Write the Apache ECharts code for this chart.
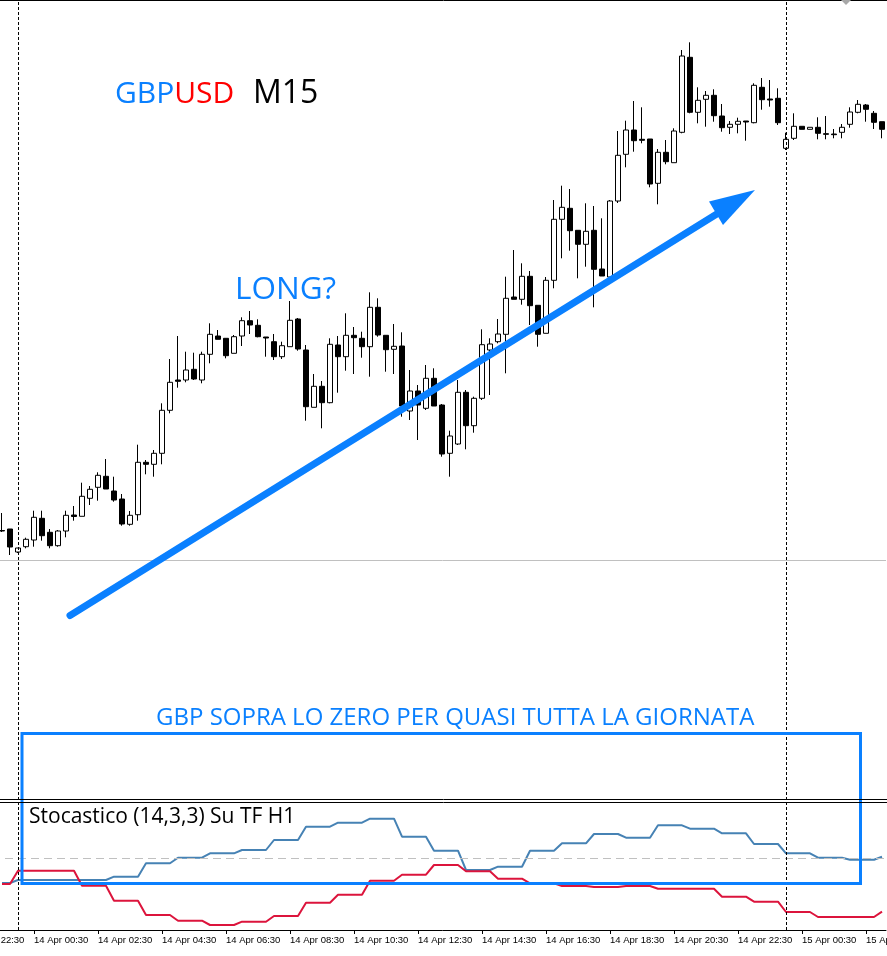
<!DOCTYPE html>
<html><head><meta charset="utf-8">
<script src="https://cdn.jsdelivr.net/npm/echarts@6/dist/echarts.min.js"></script>
<style>html,body{margin:0;padding:0;background:#fff;overflow:hidden}#c{width:887px;height:956px;}</style>
</head><body><div id="c"></div>
<script>
// ---- categories: M15 bars starting 13 Apr 22:30 (first 4 bars lie off-screen, no data) ----
const times = [];
for (let n = 0; n < 115; n++) {
  const m = 22 * 60 + 30 + 15 * n;
  const d = 13 + Math.floor(m / 1440);
  const mm = m % 1440;
  times.push(d + ' Apr ' + String(Math.floor(mm / 60)).padStart(2, '0') + ':' + String(mm % 60).padStart(2, '0'));
}
const hiddenLead = 4;
const daySeparators = ['14 Apr 00:00', '15 Apr 00:00'];

// ---- price bars (arbitrary price units, no price scale visible) from 13 Apr 23:30 ----
const opens = [269.5,271,248,253.3,260,281.7,267.7,254.3,269,285,283.7,301.7,312.7,323.7,309,301,275.7,285.3,337.7,335.7,346.7,389.7,420,420,430.7,420,445.7,464,461.7,446.7,464,479.3,474.7,463,458.3,443.3,453.3,481,450,392.7,413.7,397.3,455,443.3,464.7,461.7,453.3,492.7,464.7,450.7,454,389,409,391.7,421.7,395,346.7,356,407.7,374.3,401.7,450,458.3,465.7,503,500.7,523.7,494.7,466.7,519.7,580.7,591.7,569.7,555.7,569.7,531,523,599,645.7,670,660.7,661,616.7,647.7,637.3,667.7,742.7,687.7,700.7,704.7,684,672.7,675.7,679,677.3,712.7,701,701.7,651.7,661.7,673.7,670.7,672.7,666.3,666,667.7,675.7,687.7,695,686.7,678.3];
const closes = [269,253,252,260.7,282.7,264.3,254.3,269,284.7,283.5,303.7,310.7,324.7,311,300,276,284.7,337.7,335.7,346.7,389.7,417.7,418.7,430,421,445.7,465.7,460.7,444.3,463.3,479.3,475,463.3,462,443.3,454.3,479.7,451,393.3,413.7,397.3,455.7,443.3,464.7,462.3,453.3,492.7,465,450.3,453.7,394,409,395,421.7,394,346,364,407.7,374.3,401.7,455.3,456,466,501.7,500.7,523.7,494.3,465.7,519.7,580.7,592.7,569.3,555.7,568.7,530.7,524,599,644.7,670,659.3,659.7,616,647.7,638.3,669,744,687.7,699.7,704.7,684.3,672.3,675.7,678.7,678,714.7,700.3,700,677.3,660.7,673.7,670.7,672.7,666.7,665.7,665.3,672.7,688,695.7,690.7,677.7,670.7];
const lows = [268,245,247,251.7,253.3,259.3,251.7,253.3,262.7,279.3,283.7,295,299.3,311,298.3,274.3,274.3,279.3,325.7,323.3,335.7,386.7,412.3,417.7,420,416.7,436.7,460.7,441.7,446.7,454,466,462.7,443.3,440,441,453.3,449.3,379.3,392.7,371.7,396.7,407.3,429.3,426,442.3,423.3,463.3,428.3,426,383.3,380,360,390,394,343.3,323.3,355,350.7,367.3,400,405,456.7,426.7,500.7,495.3,475,453.3,466.7,511.7,541.7,549.3,521.7,533.3,492.7,524,518,597,632.7,648.3,656.7,612.7,595.7,635.7,637.3,666.7,686.7,676.7,673.3,678.3,668.3,666,666.7,659.3,676.7,690.3,693.3,675,650,660,670.7,670.7,660.7,660.7,661.7,661.7,672.3,686.7,678.3,671,661.7];
const highs = [287,271,252,262.3,289.3,289.3,271,270,289.3,294,317.3,314,327.7,341,323.3,306,289,355.3,340,350,396.7,441,464,448.3,447.3,448.3,476.7,470,461.7,465,482.7,489,480.7,463,466,458.3,499,482,455,426,419,461.7,464,486.7,473,468.3,507.7,501.7,464.7,476,467.7,430,415,435,431.7,396,369.3,420,410,403.3,470.7,461.7,481,523.3,550,536.7,529,494.7,523,600,614.3,611,569.7,596.7,594,581.7,600,669,679.3,699,692.7,661,651,660,671.7,750,757.7,712.7,709,710.7,696,679,682.3,679,716.7,722,720,711.7,667.3,686.7,673.7,672.7,682.7,684,671,676,692.7,700,696,689,678.3];
const priceLevel = 240;

// ---- "Stocastico (14,3,3) Su TF H1" panel, per M15 bar (zero at dashed line) ----
const stochBlue = [-25,-25,
 -22,-22,-22,-22,-22,-22,-22,-22,-22,-22,-22,-22,
 -18.7,-18.7,-18.7,-18.7, -5.3,-5.3,-5.3,-5.3, 0.3,0.3,0.3,0.3, 4.7,4.7,4.7,4.7,
 8,8,8,8, 18,18,18,18, 31.3,31.3,31.3,31.3, 35.3,35.3,35.3,35.3,
 39.3,39.3,39.3,39.3, 21.3,21.3,21.3,21.3, 7.3,7.3,7.3,7.3, -12,-12,-12,-12,
 -8.7,-8.7,-8.7,-8.7, 7.3,7.3,7.3,7.3, 14.7,14.7,14.7,14.7, 24,24,24,24,
 20.3,20.3,20.3,20.3, 32.7,32.7,32.7,32.7, 29.3,29.3,29.3,29.3, 24.7,24.7,24.7,24.7,
 14,14,14,14, 4.7,4.7,4.7,4.7, 0.3,0.3,0.3,0.3, -1.7,-1.7,-1.7,-1.7, 1.3];
const stochRed = [-26,-26,
 -12.7,-12.7,-12.7,-12.7, -12.7,-12.7,-12.7,-12.7, -27.7,-27.7,-27.7,-27.7,
 -42.7,-42.7,-42.7,-42.7, -57,-57,-57,-57, -62.7,-62.7,-62.7,-62.7, -67,-67,-67,-67,
 -63.7,-63.7,-63.7,-63.7, -58,-58,-58,-58, -44.7,-44.7,-44.7,-44.7, -36.7,-36.7,-36.7,-36.7,
 -22.7,-22.7,-22.7,-22.7, -16.7,-16.7,-16.7,-16.7, -7,-7,-7,-7, -13.3,-13.3,-13.3,-13.3,
 -20.7,-20.7,-20.7,-20.7, -25.3,-25.3,-25.3,-25.3, -28,-28,-28,-28, -29,-29,-29,-29,
 -28,-28,-28,-28, -30.7,-30.7,-30.7,-30.7, -30.7,-30.7,-30.7,-30.7, -38.7,-38.7,-38.7,-38.7,
 -43.7,-43.7,-43.7,-43.7, -54,-54,-54,-54, -59,-59,-59,-59, -59,-59,-59,-59, -53.7];
const stochZero = 0;

const BLUE = '#0A80FF';
const pad = new Array(hiddenLead).fill('-');
const candleData = pad.concat(opens.map((o, j) => [o, closes[j], lows[j], highs[j]]));
const blueData = pad.concat(stochBlue);
const redData = pad.concat(stochRed);

const chart = echarts.init(document.getElementById('c'), null, { renderer: 'canvas' });
const gridLeft = -34, gridWidth = 920;
const daySepMark = {
  silent: true, symbol: ['none', 'none'], label: { show: false }, emphasis: { disabled: true },
  lineStyle: { color: '#000', type: [3, 2], width: 1, opacity: 1 },
  data: daySeparators.map(t => ({ xAxis: t }))
};

chart.setOption({
  animation: false,
  backgroundColor: '#fff',
  grid: [
    { left: gridLeft, width: gridWidth, top: 0, height: 800, outerBoundsMode: 'none' },
    { left: gridLeft, width: gridWidth, top: 802, height: 128, outerBoundsMode: 'none' }
  ],
  xAxis: [
    { type: 'category', gridIndex: 0, data: times, boundaryGap: true, show: false },
    { type: 'category', gridIndex: 1, data: times, boundaryGap: true, position: 'bottom',
      axisLine: { show: true, onZero: false, lineStyle: { color: '#000', width: 1 } },
      axisTick: { show: true, alignWithLabel: true, length: 4, interval: (i) => i % 8 === 0, lineStyle: { color: '#000' } },
      axisLabel: { interval: (i) => i % 8 === 0, align: 'left', margin: 5, fontSize: 9.5,
        fontFamily: 'Liberation Sans', color: '#000', hideOverlap: false },
      splitLine: { show: false } }
  ],
  yAxis: [
    { type: 'value', gridIndex: 0, min: 0, max: 800, show: false, splitLine: { show: false } },
    { type: 'value', gridIndex: 1, min: -72, max: 56, show: false, splitLine: { show: false } }
  ],
  series: [
    { type: 'candlestick', xAxisIndex: 0, yAxisIndex: 0, data: candleData, barWidth: 5, z: 3,
      itemStyle: { color: '#fff', color0: '#000', borderColor: '#000', borderColor0: '#000', borderColorDoji: '#000', borderWidth: 1 },
      markLine: daySepMark },
    { type: 'line', xAxisIndex: 0, yAxisIndex: 0, data: [], z: 1,
      markLine: {
        silent: true, symbol: ['none', 'none'], label: { show: false }, emphasis: { disabled: true },
        lineStyle: { color: '#c0c0c0', type: 'solid', width: 1, opacity: 1 },
        data: [{ yAxis: priceLevel }]
      } },
    { type: 'line', xAxisIndex: 1, yAxisIndex: 1, data: [], z: 1,
      markLine: {
        silent: true, symbol: ['none', 'none'], label: { show: false }, emphasis: { disabled: true },
        lineStyle: { color: '#c0c0c0', type: [8, 5], width: 1, opacity: 1 },
        data: [{ yAxis: stochZero }]
      } },
    { type: 'line', xAxisIndex: 1, yAxisIndex: 1, data: [], z: 1, markLine: daySepMark },
    { type: 'line', xAxisIndex: 1, yAxisIndex: 1, data: blueData, symbol: 'none', showSymbol: false, z: 3,
      lineStyle: { color: '#4682B4', width: 2 }, itemStyle: { color: '#4682B4' } },
    { type: 'line', xAxisIndex: 1, yAxisIndex: 1, data: redData, symbol: 'none', showSymbol: false, z: 4,
      lineStyle: { color: '#DC143C', width: 2 }, itemStyle: { color: '#DC143C' } }
  ],
  graphic: [
    { type: 'line', z: 100, shape: { x1: 0, y1: 0.5, x2: 887, y2: 0.5 }, style: { stroke: '#000', lineWidth: 1 } },
    { type: 'line', z: 100, shape: { x1: 0, y1: 799.5, x2: 887, y2: 799.5 }, style: { stroke: '#000', lineWidth: 1 } },
    { type: 'line', z: 100, shape: { x1: 0, y1: 802.5, x2: 887, y2: 802.5 }, style: { stroke: '#000', lineWidth: 1 } },
    { type: 'polygon', z: 100, shape: { points: [[841, 0], [851, 0], [846, 5]] }, style: { fill: '#a8a8a8' } },
    { type: 'text', z: 100, x: 115, y: 94, style: {
        text: '{g|GBP}{u|USD}', verticalAlign: 'middle',
        rich: {
          g: { fill: BLUE, fontSize: 30, fontFamily: 'Open Sans' },
          u: { fill: '#FF0000', fontSize: 30, fontFamily: 'Open Sans' }
        } } },
    { type: 'text', z: 100, x: 253, y: 94, style: { text: 'M15', fill: '#000', fontSize: 32, fontFamily: 'Open Sans', verticalAlign: 'middle' } },
    { type: 'text', z: 100, x: 235, y: 290, style: { text: 'LONG?', fill: BLUE, fontSize: 31.5, fontFamily: 'Open Sans', verticalAlign: 'middle' } },
    { type: 'text', z: 100, x: 156, y: 718, style: { text: 'GBP SOPRA LO ZERO PER QUASI TUTTA LA GIORNATA', fill: BLUE, fontSize: 24, fontFamily: 'Open Sans', verticalAlign: 'middle' } },
    { type: 'text', z: 100, x: 29, y: 817, style: { text: 'Stocastico (14,3,3) Su TF H1', fill: '#000', fontSize: 21, fontFamily: 'Open Sans', verticalAlign: 'middle' } },
    { type: 'rect', z: 90, shape: { x: 22, y: 733.5, width: 838.5, height: 150 }, style: { fill: null, stroke: BLUE, lineWidth: 3 } },
    { type: 'line', z: 90, shape: { x1: 70, y1: 615.5, x2: 720, y2: 212 }, style: { stroke: BLUE, lineWidth: 7, lineCap: 'round' } },
    { type: 'polygon', z: 90, shape: { points: [[755, 190], [709, 201.5], [723, 225]] }, style: { fill: BLUE } }
  ]
});
</script></body></html>
